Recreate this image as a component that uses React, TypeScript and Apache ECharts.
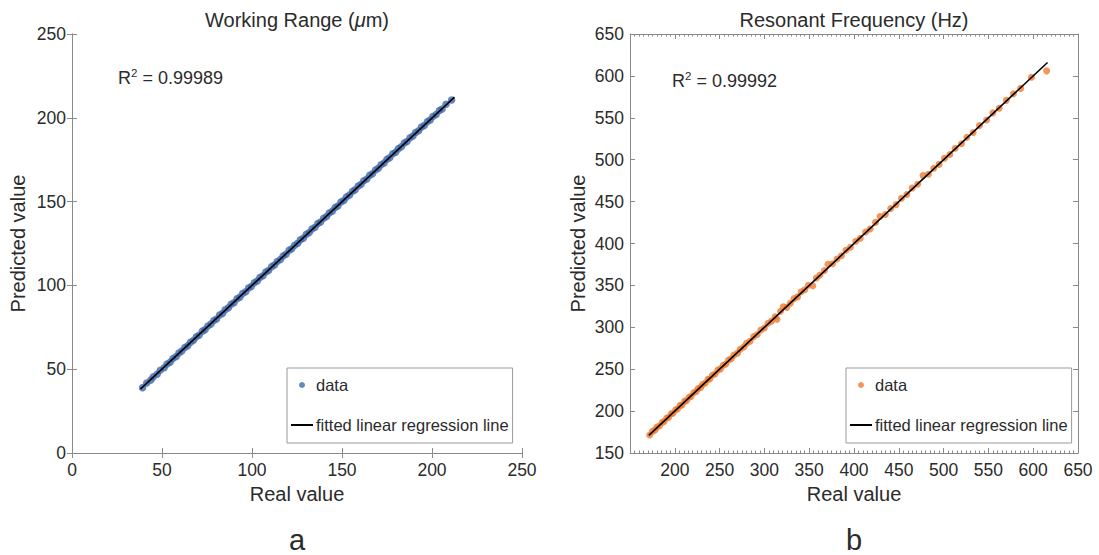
import React, { useEffect, useRef } from "react";
import * as echarts from "echarts";

const FONT = '"Liberation Sans", Arial, Helvetica, sans-serif';

// ---------- data ----------
const workingRangeTitle = ["Working Range (", "μ", "m)"];
const resonantTitle = "Resonant Frequency (Hz)";
const workingRangeR2 = "0.99989";
const resonantR2 = "0.99992";
const workingRangeTicks = [0, 50, 100, 150, 200, 250];
const resonantTicks = [150, 200, 250, 300, 350, 400, 450, 500, 550, 600, 650];

// [real value, predicted value]
const workingRangeData: number[][] = [
  [39.2, 39.0], [41.5, 41.8], [43.8, 43.5], [45.1, 45.4], [47.3, 47.0], [49.0, 49.3],
  [51.2, 50.9], [52.8, 53.1], [54.5, 54.2], [56.1, 56.4], [57.9, 57.6], [59.4, 59.7],
  [61.0, 60.8], [62.7, 62.9], [64.3, 64.0], [65.8, 66.1], [67.5, 67.2], [69.1, 69.4],
  [70.6, 70.3], [72.4, 72.7], [73.9, 73.6], [75.5, 75.8], [77.2, 76.9], [78.8, 79.1],
  [80.3, 80.0], [82.0, 82.3], [83.6, 83.3], [85.1, 85.4], [86.9, 86.6], [88.4, 88.7],
  [90.0, 89.7], [91.7, 92.0], [93.2, 92.9], [94.8, 95.1], [96.5, 96.2], [98.1, 98.4],
  [99.6, 99.3], [101.3, 101.6], [102.9, 102.6], [104.4, 104.7], [106.1, 105.8], [107.7, 108.0],
  [109.2, 108.9], [110.9, 111.2], [112.5, 112.2], [114.0, 114.3], [115.8, 115.5], [117.3, 117.6],
  [118.9, 118.6], [120.6, 120.9], [122.1, 121.8], [123.7, 124.0], [125.4, 125.1], [126.9, 127.2],
  [128.5, 128.2], [130.2, 130.5], [131.8, 131.5], [133.3, 133.6], [135.0, 134.7], [136.6, 136.9],
  [138.1, 137.8], [139.8, 140.1], [141.4, 141.1], [142.9, 143.2], [144.6, 144.3], [146.2, 146.5],
  [147.7, 147.4], [149.4, 149.7], [151.0, 150.7], [152.5, 152.8], [154.2, 153.9], [155.8, 156.1],
  [157.3, 157.0], [159.0, 159.3], [160.6, 160.3], [162.1, 162.4], [163.8, 163.5], [165.4, 165.7],
  [166.9, 166.6], [168.6, 168.9], [170.2, 169.9], [171.7, 172.0], [173.4, 173.1], [175.0, 175.3],
  [176.5, 176.2], [178.2, 178.5], [179.8, 179.5], [181.3, 181.6], [183.0, 182.7], [184.6, 184.9],
  [186.1, 185.8], [187.8, 188.1], [189.4, 189.1], [190.9, 191.2], [192.6, 192.3], [194.2, 194.5],
  [195.7, 195.4], [197.4, 197.7], [199.0, 198.7], [200.5, 200.8], [202.3, 202.0], [204.1, 204.4],
  [205.6, 205.3], [207.8, 208.1], [210.9, 210.6],
];
const workingRangeFit: number[][] = [[38.0, 38.1], [212.5, 212.3]];

const resonantData: number[][] = [
  [172, 171.5], [175, 175.8], [178, 177.6], [180, 180.9], [183, 182.5], [186, 186.7],
  [188, 187.6], [191, 191.8], [193, 192.4], [196, 196.9], [198, 197.5], [201, 201.7],
  [203, 202.4], [206, 206.8], [208, 207.3], [211, 211.9], [213, 212.4], [216, 216.6],
  [218, 217.5], [221, 221.8], [224, 223.4], [226, 226.9], [229, 228.3], [231, 231.8],
  [234, 233.5], [237, 237.9], [239, 238.4], [242, 242.8], [245, 244.3], [248, 248.9],
  [251, 250.4], [254, 254.7], [257, 256.3], [260, 260.9], [263, 262.4], [266, 266.8],
  [270, 269.2], [273, 273.9], [277, 276.4], [280, 280.8], [284, 283.3], [288, 288.9],
  [292, 291.4], [296, 296.7], [300, 299.1], [304, 304.8], [308, 307.4], [312, 312.5],
  [314, 309.5], [318, 319.2], [321, 324.6], [325, 323.8], [329, 328.7], [333, 334.2],
  [337, 336.3], [341, 342.5], [345, 344.8], [349, 350.1], [354, 349.6], [358, 358.9],
  [362, 362.3], [367, 367.8], [371, 375.2], [376, 375.9], [381, 381.6], [386, 385.4],
  [391, 391.9], [396, 395.6], [402, 402.7], [407, 406.2], [413, 413.8], [418, 417.4],
  [424, 425.2], [429, 432.3], [435, 434.6], [441, 441.8], [447, 446.4], [453, 453.9],
  [459, 458.5], [465, 466.2], [471, 470.7], [477, 481.0], [483, 482.6], [489, 489.7],
  [495, 494.4], [501, 501.8], [507, 506.3], [513, 513.6], [520, 519.1], [526, 526.8],
  [533, 532.5], [540, 540.7], [548, 547.4], [555, 555.9], [562, 561.3], [570, 570.8],
  [578, 578.6], [586, 585.1], [598, 598.4], [615, 606.0],
];
const resonantFit: number[][] = [[171, 171], [616, 616]];

const legendNames = ["data", "fitted linear regression line"];
const panelLabels = ["a", "b"];

// ---------- styles ----------
const AXIS_COLOR = "#8a8a8a";
const TEXT_COLOR = "#2b2b2b";
const BLUE = "#3f69ab";
const ORANGE = "#ee7b30";

const LINE_ICON = "path://M0,0 L22,0 L22,2 L0,2 Z";

function makeAxes(
  gridIndex: number,
  ticks: number[],
  hideMinX: boolean,
  minor: boolean,
  yNameGap: number
) {
  const min = ticks[0];
  const max = ticks[ticks.length - 1];
  const interval = ticks[1] - ticks[0];
  const line = { show: true, lineStyle: { color: AXIS_COLOR, width: 1 } };
  const tick = { show: true, inside: true, length: 5, lineStyle: { color: AXIS_COLOR } };
  const minorTick = minor
    ? { show: true, splitNumber: 10, length: 2.5, lineStyle: { color: AXIS_COLOR } }
    : { show: false };
  const label = {
    show: true,
    fontSize: 17.5,
    fontFamily: FONT,
    color: TEXT_COLOR,
    showMinLabel: true,
    showMaxLabel: true,
  };
  const nameStyle = { fontSize: 20, fontFamily: FONT, color: TEXT_COLOR };
  const xAxes = [
    {
      type: "value",
      gridIndex,
      min,
      max,
      interval,
      position: "bottom",
      axisLine: line,
      axisTick: tick,
      minorTick,
      splitLine: { show: false },
      axisLabel: {
        ...label,
        margin: 8,
        formatter: (v: number) => (hideMinX && v === min ? "" : String(v)),
      },
      name: "Real value",
      nameLocation: "middle",
      nameGap: 30,
      nameTextStyle: nameStyle,
    },
    {
      type: "value",
      gridIndex,
      min,
      max,
      interval,
      position: "top",
      axisLine: line,
      axisTick: tick,
      minorTick,
      splitLine: { show: false },
      axisLabel: { show: false },
    },
  ];
  const yAxes = [
    {
      type: "value",
      gridIndex,
      min,
      max,
      interval,
      position: "left",
      axisLine: line,
      axisTick: tick,
      splitLine: { show: false },
      axisLabel: { ...label, margin: 6 },
      name: "Predicted value",
      nameLocation: "middle",
      nameGap: yNameGap,
      nameTextStyle: nameStyle,
    },
    {
      type: "value",
      gridIndex,
      min,
      max,
      interval,
      position: "right",
      axisLine: line,
      axisTick: tick,
      splitLine: { show: false },
      axisLabel: { show: false },
    },
  ];
  return { xAxes, yAxes };
}

function makeLegend(left: number, top: number, dotColor: string) {
  return {
    orient: "vertical",
    left,
    top,
    padding: [7, 4, 8, 4],
    itemGap: 20,
    itemWidth: 22,
    itemHeight: 6,
    backgroundColor: "#ffffff",
    borderColor: "#9a9a9a",
    borderWidth: 1,
    borderRadius: 0,
    selectedMode: false,
    textStyle: {
      fontSize: 16.5,
      fontFamily: FONT,
      color: TEXT_COLOR,
      lineHeight: 20,
      padding: [0, 0, 0, -2],
    },
    data: [
      { name: legendNames[0], icon: "circle", itemStyle: { color: dotColor } },
      { name: legendNames[1], icon: LINE_ICON, itemStyle: { color: "#000000", borderWidth: 0 } },
    ],
  };
}

function r2Text(x: number, y: number, value: string) {
  return {
    type: "text",
    x,
    y,
    style: {
      text: `{b|R}{s|2}{b| = ${value}}`,
      rich: {
        b: { fontSize: 18, fontFamily: FONT, fill: TEXT_COLOR, lineHeight: 22 },
        s: { fontSize: 11.5, fontFamily: FONT, fill: TEXT_COLOR, verticalAlign: "top", lineHeight: 22 },
      },
      verticalAlign: "middle",
    },
  };
}

function centeredText(x: number, y: number, text: string, fontSize: number) {
  return {
    type: "text",
    x,
    y,
    style: {
      text,
      fontSize,
      fontFamily: FONT,
      fill: TEXT_COLOR,
      align: "center",
      verticalAlign: "middle",
    },
  };
}

export default function App() {
  const ref = useRef<HTMLDivElement>(null);

  useEffect(() => {
    if (!ref.current) return;
    const chart = echarts.init(ref.current, undefined, { renderer: "svg" });

    const a = makeAxes(0, workingRangeTicks, false, false, 44);
    const b = makeAxes(1, resonantTicks, true, true, 42);

    const option: any = {
      animation: false,
      backgroundColor: "#ffffff",
      textStyle: { fontFamily: FONT },
      grid: [
        { left: 72, top: 34, width: 450, height: 419, containLabel: false },
        { left: 630, top: 34, width: 448, height: 419, containLabel: false },
      ],
      xAxis: [...a.xAxes, ...b.xAxes],
      yAxis: [...a.yAxes, ...b.yAxes],
      legend: [makeLegend(287, 368, BLUE), makeLegend(846, 368, ORANGE)],
      series: [
        {
          type: "scatter",
          name: legendNames[0],
          xAxisIndex: 0,
          yAxisIndex: 0,
          data: workingRangeData,
          symbol: "circle",
          symbolSize: 7.5,
          itemStyle: { color: BLUE },
          z: 2,
        },
        {
          type: "line",
          name: legendNames[1],
          xAxisIndex: 0,
          yAxisIndex: 0,
          data: workingRangeFit,
          symbol: "none",
          lineStyle: { color: "#000000", width: 1.6 },
          itemStyle: { color: "#000000" },
          z: 3,
        },
        {
          type: "scatter",
          name: legendNames[0],
          xAxisIndex: 2,
          yAxisIndex: 2,
          data: resonantData,
          symbol: "circle",
          symbolSize: 7,
          itemStyle: { color: ORANGE },
          z: 2,
        },
        {
          type: "line",
          name: legendNames[1],
          xAxisIndex: 2,
          yAxisIndex: 2,
          data: resonantFit,
          symbol: "none",
          lineStyle: { color: "#000000", width: 1.6 },
          itemStyle: { color: "#000000" },
          z: 3,
        },
      ],
      graphic: [
        {
          type: "text",
          x: 297,
          y: 20,
          style: {
            text: `{n|${workingRangeTitle[0]}}{i|${workingRangeTitle[1]}}{n|${workingRangeTitle[2]}}`,
            rich: {
              n: { fontSize: 20, fontFamily: FONT, fill: TEXT_COLOR },
              i: { fontSize: 20, fontFamily: FONT, fill: TEXT_COLOR, fontStyle: "italic" },
            },
            align: "center",
            verticalAlign: "middle",
          },
        },
        centeredText(854, 20, resonantTitle, 20),
        r2Text(118, 78, workingRangeR2),
        r2Text(672, 81, resonantR2),
        centeredText(297, 540, panelLabels[0], 29),
        centeredText(854, 540, panelLabels[1], 29),
      ],
    };

    chart.setOption(option);
    return () => chart.dispose();
  }, []);

  return (
    <div
      ref={ref}
      style={{ position: "absolute", left: 0, top: 0, width: 1099, height: 555 }}
    />
  );
}
